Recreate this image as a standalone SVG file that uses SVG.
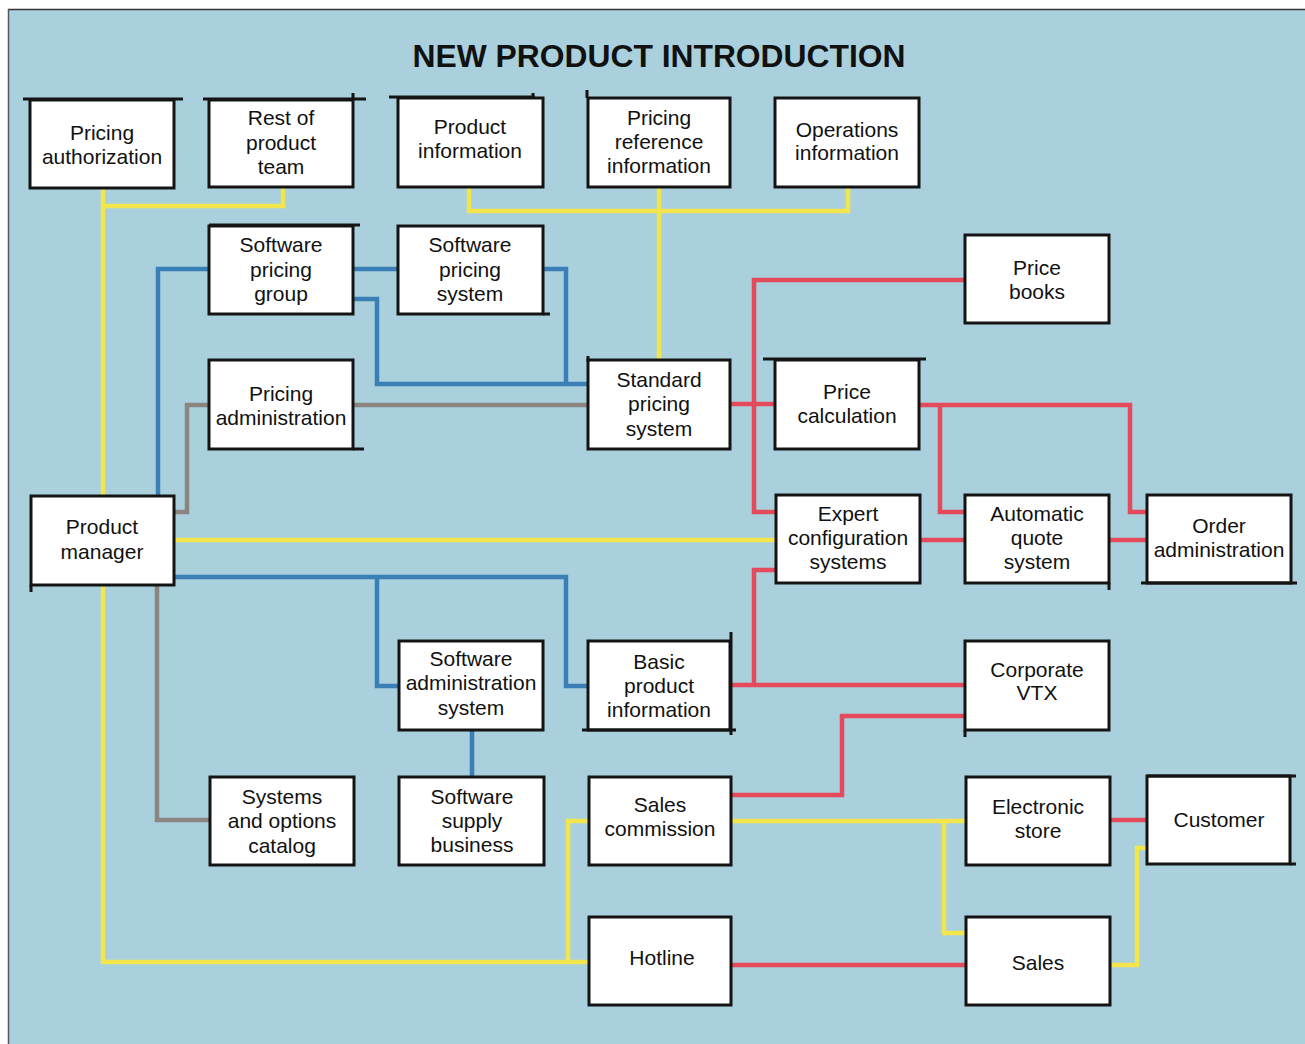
<svg xmlns="http://www.w3.org/2000/svg" width="1305" height="1044" viewBox="0 0 1305 1044">
<style>
.box{fill:#fff;stroke:#141414;stroke-width:3}
.ex{stroke:#141414;stroke-width:3;fill:none}
.t{font-family:"Liberation Sans",Arial,sans-serif;font-size:21px;fill:#111;text-anchor:middle}
.y{stroke:#f3e64c;stroke-width:4.5;fill:none;stroke-linejoin:miter}
.b{stroke:#3a7fb6;stroke-width:4.5;fill:none}
.r{stroke:#e44a5c;stroke-width:4.5;fill:none}
.g{stroke:#8b847f;stroke-width:4.5;fill:none}
</style>
<rect x="0" y="0" width="1305" height="1044" fill="#fff"/>
<rect x="8" y="9" width="1297" height="1035" fill="#a9d0dc"/>
<line x1="8" y1="9.5" x2="1305" y2="9.5" stroke="#333" stroke-width="1.5"/>
<line x1="8.5" y1="9" x2="8.5" y2="1044" stroke="#555" stroke-width="1.5"/>
<text x="659" y="67" font-family="Liberation Sans,Arial,sans-serif" font-weight="bold" font-size="31" text-anchor="middle" fill="#111" textLength="493" lengthAdjust="spacingAndGlyphs">NEW PRODUCT INTRODUCTION</text>

<g id="connectors">
<!-- yellow -->
<path class="y" d="M103 188 V962 H589"/>
<path class="y" d="M103 206 H283 V187"/>
<path class="y" d="M469 187 V211 H848 V187"/>
<path class="y" d="M659 187 V359"/>
<path class="y" d="M174 540 H776"/>
<path class="y" d="M589 821 H568 V962"/>
<path class="y" d="M731 821 H966"/>
<path class="y" d="M944 821 V933 H966"/>
<path class="y" d="M1110 965 H1137 V848 H1147"/>
<!-- blue -->
<path class="b" d="M209 269 H158 V496"/>
<path class="b" d="M353 269 H398"/>
<path class="b" d="M543 269 H566 V384"/>
<path class="b" d="M353 299 H377 V384 H588"/>
<path class="b" d="M174 577 H566 V686 H588"/>
<path class="b" d="M377 577 V686 H399"/>
<path class="b" d="M472 730 V777"/>
<!-- gray -->
<path class="g" d="M353 405 H588"/>
<path class="g" d="M209 405 H187 V512 H174"/>
<path class="g" d="M157 585 V820 H210"/>
<!-- red -->
<path class="r" d="M965 280 H754 V512 H776"/>
<path class="r" d="M730 404 H775"/>
<path class="r" d="M919 405 H1130 V512 H1147"/>
<path class="r" d="M940 405 V512 H965"/>
<path class="r" d="M920 540 H965"/>
<path class="r" d="M1109 540 H1147"/>
<path class="r" d="M776 570 H754 V685"/>
<path class="r" d="M730 685 H965"/>
<path class="r" d="M731 795 H842 V716 H965"/>
<path class="r" d="M1110 820 H1147"/>
<path class="r" d="M731 965 H966"/>
</g>

<g id="pricing-authorization"><rect class="box" x="30" y="100" width="144" height="88"/><path class="ex" d="M23 99 H183"/><text class="t" x="102" y="140">Pricing</text><text class="t" x="102" y="164">authorization</text></g>
<g id="rest-of-product-team"><rect class="box" x="209" y="100" width="144" height="87"/><path class="ex" d="M203 99 H366 M353 93 V100"/><text class="t" x="281" y="125">Rest of</text><text class="t" x="281" y="150">product</text><text class="t" x="281" y="174">team</text></g>
<g id="product-information"><rect class="box" x="398" y="98" width="145" height="89"/><path class="ex" d="M389 97 H535 M533 93 V99"/><text class="t" x="470" y="134">Product</text><text class="t" x="470" y="158">information</text></g>
<g id="pricing-reference-information"><rect class="box" x="588" y="98" width="142" height="89"/><path class="ex" d="M587 90 V98"/><text class="t" x="659" y="125">Pricing</text><text class="t" x="659" y="149">reference</text><text class="t" x="659" y="173">information</text></g>
<g id="operations-information"><rect class="box" x="775" y="98" width="144" height="89"/><text class="t" x="847" y="137">Operations</text><text class="t" x="847" y="160">information</text></g>
<g id="software-pricing-group"><rect class="box" x="209" y="226" width="144" height="88"/><path class="ex" d="M209 225 H360"/><text class="t" x="281" y="252">Software</text><text class="t" x="281" y="277">pricing</text><text class="t" x="281" y="301">group</text></g>
<g id="software-pricing-system"><rect class="box" x="398" y="226" width="145" height="88"/><path class="ex" d="M543 314 H550"/><text class="t" x="470" y="252">Software</text><text class="t" x="470" y="277">pricing</text><text class="t" x="470" y="301">system</text></g>
<g id="price-books"><rect class="box" x="965" y="235" width="144" height="88"/><text class="t" x="1037" y="275">Price</text><text class="t" x="1037" y="299">books</text></g>
<g id="pricing-administration"><rect class="box" x="209" y="360" width="144" height="89"/><path class="ex" d="M353 449 H364"/><text class="t" x="281" y="401">Pricing</text><text class="t" x="281" y="425">administration</text></g>
<g id="standard-pricing-system"><rect class="box" x="588" y="360" width="142" height="89"/><path class="ex" d="M588 356 V362"/><text class="t" x="659" y="387">Standard</text><text class="t" x="659" y="411">pricing</text><text class="t" x="659" y="436">system</text></g>
<g id="price-calculation"><rect class="box" x="775" y="360" width="144" height="89"/><path class="ex" d="M763 359 H926"/><text class="t" x="847" y="399">Price</text><text class="t" x="847" y="423">calculation</text></g>
<g id="product-manager"><rect class="box" x="31" y="496" width="143" height="89"/><path class="ex" d="M31 585 V592"/><text class="t" x="102" y="534">Product</text><text class="t" x="102" y="559">manager</text></g>
<g id="expert-configuration-systems"><rect class="box" x="776" y="495" width="144" height="88"/><text class="t" x="848" y="521">Expert</text><text class="t" x="848" y="545">configuration</text><text class="t" x="848" y="569">systems</text></g>
<g id="automatic-quote-system"><rect class="box" x="965" y="495" width="144" height="88"/><path class="ex" d="M1109 583 V590"/><text class="t" x="1037" y="521">Automatic</text><text class="t" x="1037" y="545">quote</text><text class="t" x="1037" y="569">system</text></g>
<g id="order-administration"><rect class="box" x="1147" y="495" width="144" height="88"/><path class="ex" d="M1141 583 H1297"/><text class="t" x="1219" y="533">Order</text><text class="t" x="1219" y="557">administration</text></g>
<g id="software-administration-system"><rect class="box" x="399" y="641" width="144" height="89"/><text class="t" x="471" y="666">Software</text><text class="t" x="471" y="690">administration</text><text class="t" x="471" y="715">system</text></g>
<g id="basic-product-information"><rect class="box" x="588" y="641" width="142" height="89"/><path class="ex" d="M582 730 H736 M731 632 V735"/><text class="t" x="659" y="669">Basic</text><text class="t" x="659" y="693">product</text><text class="t" x="659" y="717">information</text></g>
<g id="corporate-vtx"><rect class="box" x="965" y="641" width="144" height="89"/><path class="ex" d="M965 730 V737"/><text class="t" x="1037" y="677">Corporate</text><text class="t" x="1037" y="700">VTX</text></g>
<g id="systems-and-options-catalog"><rect class="box" x="210" y="777" width="144" height="88"/><text class="t" x="282" y="804">Systems</text><text class="t" x="282" y="828">and options</text><text class="t" x="282" y="853">catalog</text></g>
<g id="software-supply-business"><rect class="box" x="399" y="777" width="145" height="88"/><text class="t" x="472" y="804">Software</text><text class="t" x="472" y="828">supply</text><text class="t" x="472" y="852">business</text></g>
<g id="sales-commission"><rect class="box" x="589" y="777" width="142" height="88"/><text class="t" x="660" y="812">Sales</text><text class="t" x="660" y="836">commission</text></g>
<g id="electronic-store"><rect class="box" x="966" y="777" width="144" height="88"/><text class="t" x="1038" y="814">Electronic</text><text class="t" x="1038" y="838">store</text></g>
<g id="customer"><rect class="box" x="1147" y="776" width="143" height="88"/><path class="ex" d="M1147 776 H1296 M1290 864 H1296"/><text class="t" x="1219" y="827">Customer</text></g>
<g id="hotline"><rect class="box" x="589" y="917" width="142" height="88"/><text class="t" x="662" y="965">Hotline</text></g>
<g id="sales"><rect class="box" x="966" y="917" width="144" height="88"/><text class="t" x="1038" y="970">Sales</text></g>
</svg>
